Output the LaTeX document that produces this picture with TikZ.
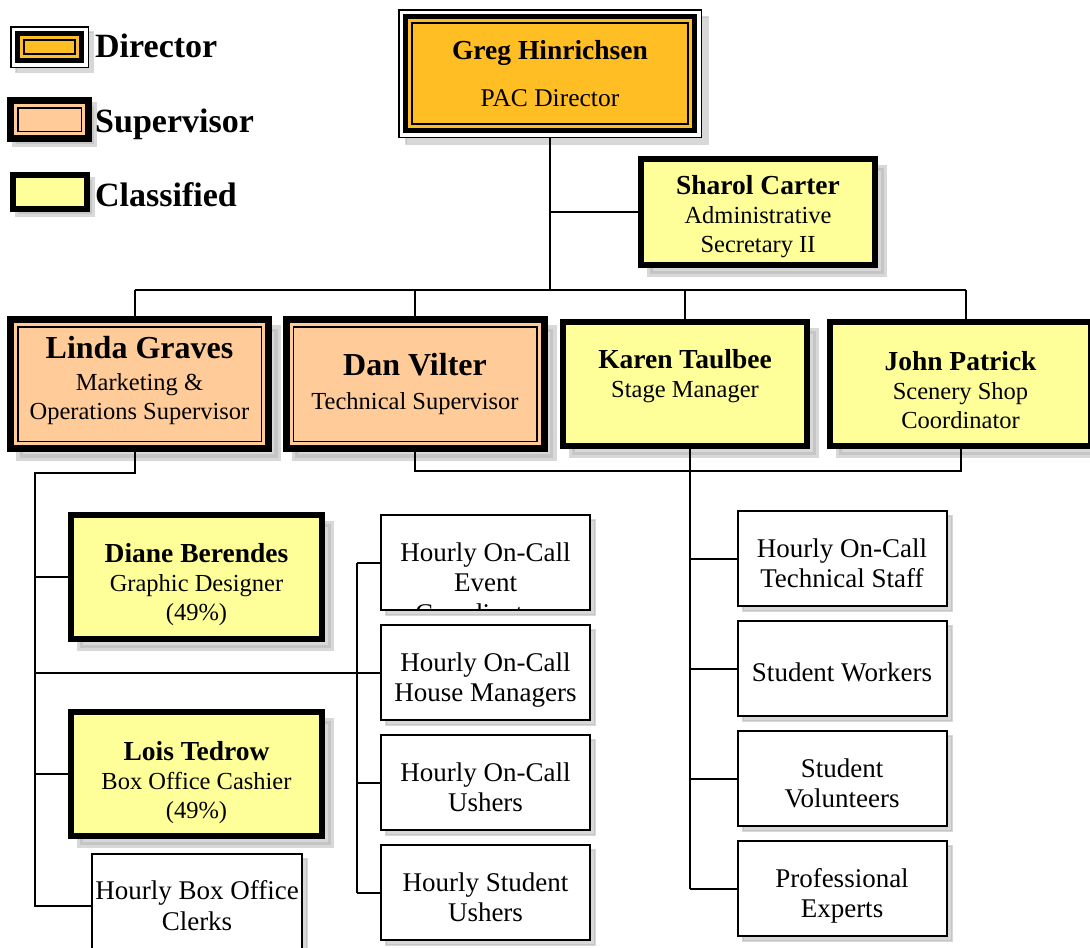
\documentclass[tikz,border=0pt]{standalone}
\usepackage{fontspec}
\setmainfont{Liberation Serif}
\usetikzlibrary{positioning,shadows}

\definecolor{dirfill}{RGB}{255,190,35}
\definecolor{supfill}{RGB}{255,204,153}
\definecolor{clsfill}{RGB}{255,255,153}

% name lines
\newcommand{\nm}[1]{{\bfseries\fontsize{27.5}{29}\selectfont #1}}
\newcommand{\bignm}[1]{{\bfseries\fontsize{32}{29}\selectfont #1}}

\begin{document}
\begin{tikzpicture}[
  x=1pt, y=-1pt,
  every node/.style={font=\fontsize{24.5}{29}\selectfont, align=center, inner sep=0pt},
  boxshadow/.style={drop shadow={shadow xshift=#1, shadow yshift=-#1,
                    fill=black!30, draw=black!30}},
  dirbox/.style={draw, line width=1.5pt, fill=white, boxshadow=#1,
    path picture={
      \draw[line width=5pt, fill=dirfill]
        ([shift={(6.5pt,6.5pt)}]path picture bounding box.south west) rectangle
        ([shift={(-6.5pt,-6.5pt)}]path picture bounding box.north east);
      \draw[line width=2pt]
        ([shift={(13pt,13pt)}]path picture bounding box.south west) rectangle
        ([shift={(-13pt,-13pt)}]path picture bounding box.north east);}},
  dirbox/.default=7pt,
  supbox/.style={draw, line width=7pt, fill=supfill, boxshadow=#1,
    path picture={
      \draw[line width=1.5pt]
        ([shift={(7.25pt,7.25pt)}]path picture bounding box.south west) rectangle
        ([shift={(-7.25pt,-7.25pt)}]path picture bounding box.north east);}},
  supbox/.default=9pt,
  clsbox/.style={draw, line width=6pt, fill=clsfill, boxshadow=#1},
  clsbox/.default=9pt,
  hrtext/.style={font=\fontsize{27}{30.5}\selectfont},
  hrbox/.style={draw, line width=2pt, fill=white, boxshadow=5pt, hrtext,
                minimum width=209pt, minimum height=95pt,
                text height=58pt, text depth=0pt},
  legtxt/.style={font=\bfseries\fontsize{34}{36}\selectfont},
  link/.style={line width=2pt},
  node distance=13pt
]
\useasboundingbox (0,0) rectangle (1090,948);

% Legend
\node[dirbox=5pt, minimum width=77.5pt, minimum height=40.5pt] (legdir) at (49.5,47) {};
\node[supbox=5pt, minimum width=78pt, minimum height=38pt] (legsup) at (49.5,119.5) {};
\node[clsbox=5pt, minimum width=74pt, minimum height=34pt] (legcls) at (50,192) {};
\node[legtxt, anchor=base west] (legdirtxt) at (95,57) {Director};
\node[legtxt, anchor=base west] (legsuptxt) at (95,132) {Supervisor};
\node[legtxt, anchor=base west] (legclstxt) at (95,206) {Classified};

% Director and office
\node[dirbox, minimum width=302.5pt, minimum height=127.5pt] (dir) at (550,73.5)
  {\nm{Greg Hinrichsen}\\[18pt]{\fontsize{25.5}{29}\selectfont PAC Director}};
\node[clsbox, minimum width=234pt, minimum height=106pt,
      text height=81pt, text depth=0pt] (sharol) at (758,212)
  {\nm{Sharol Carter}\\Administrative\\Secretary II};

% Second level
\node[supbox, minimum width=258pt, minimum height=129pt, text depth=13pt] (linda) at (139.5,384)
  {\bignm{Linda Graves}\\[3pt]Marketing \&\\Operations Supervisor};
\node[supbox, minimum width=258pt, minimum height=129pt] (dan) at (415,384)
  {\bignm{Dan Vilter}\\[4pt]Technical Supervisor};
\node[clsbox, minimum width=244pt, minimum height=124pt, text depth=21pt] (karen) at (685,384)
  {\nm{Karen Taulbee}\\Stage Manager};
\node[clsbox, minimum width=261pt, minimum height=124pt,
      text height=89pt, text depth=0pt] (john) at (960.5,384)
  {\nm{John Patrick}\\Scenery Shop\\Coordinator};

% Front of house staff
\node[clsbox, minimum width=251pt, minimum height=124pt,
      text height=87pt, text depth=0pt] (diane) at (196.5,577)
  {\nm{Diane Berendes}\\Graphic Designer\\(49\%)};
\node[clsbox, minimum width=251pt, minimum height=124pt,
      text height=88pt, text depth=0pt] (lois) at (196.5,774)
  {\nm{Lois Tedrow}\\Box Office Cashier\\(49\%)};
\node[hrbox, minimum width=210pt, minimum height=104pt, text height=48pt] (clerks) at (197,906)
  {Hourly Box Office\\Clerks};

\node[hrbox, path picture={\node[hrtext, anchor=north, text height={}, text depth={}] (evtxt)
    at ([yshift=-19pt]path picture bounding box.north)
    {Hourly On-Call\\Event\\Coordinators};}] (event) at (485.5,562.5) {};
\node[hrbox, below=of event]  (house)   {Hourly On-Call\\House Managers};
\node[hrbox, below=of house]  (ushers)  {Hourly On-Call\\Ushers};
\node[hrbox, below=of ushers] (sushers) {Hourly Student\\Ushers};

% Technical staff
\node[hrbox] (techstaff) at (842,558.5) {Hourly On-Call\\Technical Staff};
\node[hrbox, below=of techstaff, text height=26.5pt] (workers) {Student Workers};
\node[hrbox, below=of workers]    (volunteers) {Student\\Volunteers};
\node[hrbox, below=of volunteers] (experts)    {Professional\\Experts};

% Connectors
\coordinate (busL) at (135,290);
\coordinate (busR) at (966,290);
\coordinate (tbus) at (690,471);
\coordinate (ltrunk) at (35,473);
\coordinate (mtrunk) at (357,561);

\draw[link] (dir.south) -- (dir.south |- busL);
\draw[link] (sharol.west) -- (sharol.west -| dir.south);
\draw[link] (busL) -- (busR);
\draw[link] (busL) -- (busL |- linda.north);
\draw[link] (dan.north |- busL) -- (dan.north);
\draw[link] (karen.north |- busL) -- (karen.north);
\draw[link] (busR) -- (busR |- john.north);

\draw[link] (dan.south) |- (tbus) -| (john.south);
\draw[link] (tbus |- karen.south) -- (tbus |- experts.west);
\foreach \n in {techstaff,workers,volunteers,experts}
  \draw[link] (tbus |- \n.west) -- (\n.west);

\draw[link] (busL |- linda.south) |- (ltrunk) -- (ltrunk |- clerks.west) -- (clerks.west);
\foreach \n in {diane,lois,house}
  \draw[link] (ltrunk |- \n.west) -- (\n.west);
\draw[link] (mtrunk |- event.west) -- (mtrunk |- sushers.west);
\foreach \n in {event,ushers,sushers}
  \draw[link] (mtrunk |- \n.west) -- (\n.west);

\end{tikzpicture}
\end{document}
